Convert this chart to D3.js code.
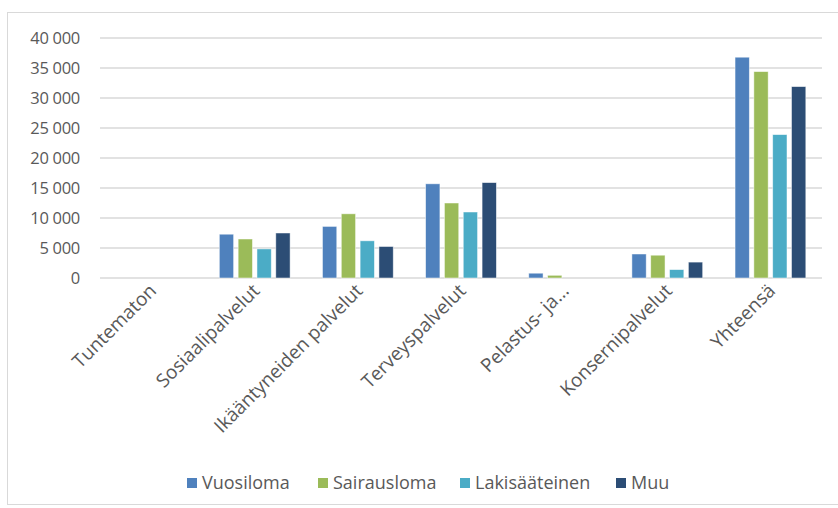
<!DOCTYPE html>
<html>
<head>
<meta charset="utf-8">
<script src="https://cdn.jsdelivr.net/npm/d3@7"></script>
<style>
  body { margin: 0; background: #fff; }
  text { font-family: "Open Sans", sans-serif; fill: #595959; }
</style>
</head>
<body>
<div class="chart"></div>
<script>
var categories = ["Tuntematon", "Sosiaalipalvelut", "Ikääntyneiden palvelut", "Terveyspalvelut", "Pelastus- ja...", "Konsernipalvelut", "Yhteensä"];
var seriesNames = ["Vuosiloma", "Sairausloma", "Lakisääteinen", "Muu"];
var vuosiloma = [0, 7300, 8600, 15700, 800, 4000, 36800];
var sairausloma = [0, 6500, 10700, 12500, 450, 3800, 34400];
var lakisaateinen = [0, 4850, 6200, 11000, 0, 1400, 23900];
var muu = [0, 7500, 5250, 15900, 0, 2650, 31900];
var yTicks = [0, 5000, 10000, 15000, 20000, 25000, 30000, 35000, 40000];
var colors = ["#4f81bd", "#9bbb59", "#4bacc6", "#2c4d75"];

var svgWidth = 838;
var svgHeight = 508;
var margin = { top: 38, right: 16, bottom: 230, left: 100 };
var width = svgWidth - margin.left - margin.right;
var height = svgHeight - margin.top - margin.bottom;

var svg = d3.select(".chart")
    .append("svg")
    .attr("width", svgWidth)
    .attr("height", svgHeight);

// chart border
svg.append("rect")
    .attr("x", 7.5).attr("y", 12.5)
    .attr("width", 840).attr("height", 492)
    .attr("fill", "none")
    .attr("stroke", "#d9d9d9");

var chartGroup = svg.append("g")
    .attr("transform", `translate(${margin.left}, ${margin.top})`);

var allSeries = [vuosiloma, sairausloma, lakisaateinen, muu];
var rows = categories.map((c, i) => ({
    cat: c,
    vals: seriesNames.map((s, j) => ({ name: s, idx: j, value: allSeries[j][i] }))
}));

var x0 = d3.scaleBand()
    .domain(categories)
    .range([0, width])
    .paddingInner(0.27)
    .paddingOuter(0.135);

var x1 = d3.scaleBand()
    .domain(seriesNames)
    .range([0, x0.bandwidth()])
    .paddingInner(0.24)
    .paddingOuter(0.12);

var y = d3.scaleLinear()
    .domain([0, 40000])
    .range([height, 0]);

var fiLocale = d3.formatLocale({ decimal: ",", thousands: "\u00a0", grouping: [3], currency: ["", "€"] });
var fmt = fiLocale.format(",d");

// grid lines
chartGroup.append("g")
    .selectAll("line")
    .data(yTicks)
    .join("line")
    .attr("x1", 0)
    .attr("x2", width)
    .attr("y1", d => y(d))
    .attr("y2", d => y(d))
    .attr("stroke", "#d9d9d9")
    .attr("stroke-width", 1.5);

// y labels
chartGroup.append("g")
    .selectAll("text")
    .data(yTicks)
    .join("text")
    .attr("x", -20)
    .attr("y", d => y(d))
    .attr("dy", "0.35em")
    .attr("text-anchor", "end")
    .attr("font-size", "16.5px")
    .attr("letter-spacing", "-0.3px")
    .text(d => fmt(d));

// bars
var groups = chartGroup.selectAll(".group")
    .data(rows)
    .join("g")
    .attr("class", "group")
    .attr("transform", d => `translate(${x0(d.cat)},0)`);

groups.selectAll("rect")
    .data(d => d.vals)
    .join("rect")
    .attr("x", d => x1(d.name))
    .attr("y", d => y(d.value))
    .attr("width", x1.bandwidth())
    .attr("height", d => height - y(d.value))
    .attr("fill", d => colors[d.idx])
    .attr("stroke", d => d.value > 0 ? "#ffffff" : "none")
    .attr("stroke-opacity", 0.6)
    .attr("stroke-width", 0.8);

// x labels
chartGroup.append("g")
    .selectAll("text")
    .data(categories)
    .join("text")
    .attr("transform", d => `translate(${x0(d) + x0.bandwidth() / 2 + 6}, ${height + 14}) rotate(-45)`)
    .attr("text-anchor", "end")
    .attr("font-size", "19px")
    .text(d => d);

// legend
var legendX = [187, 318, 460, 616];
var legend = svg.append("g").selectAll("g")
    .data(seriesNames)
    .join("g")
    .attr("transform", (d, i) => `translate(${legendX[i]}, 483)`);

legend.append("rect")
    .attr("x", 0).attr("y", -5)
    .attr("width", 10).attr("height", 10)
    .attr("fill", (d, i) => colors[i]);

legend.append("text")
    .attr("x", 15)
    .attr("dy", "0.35em")
    .attr("font-size", "18px")
    .text(d => d);
</script>
</body>
</html>
